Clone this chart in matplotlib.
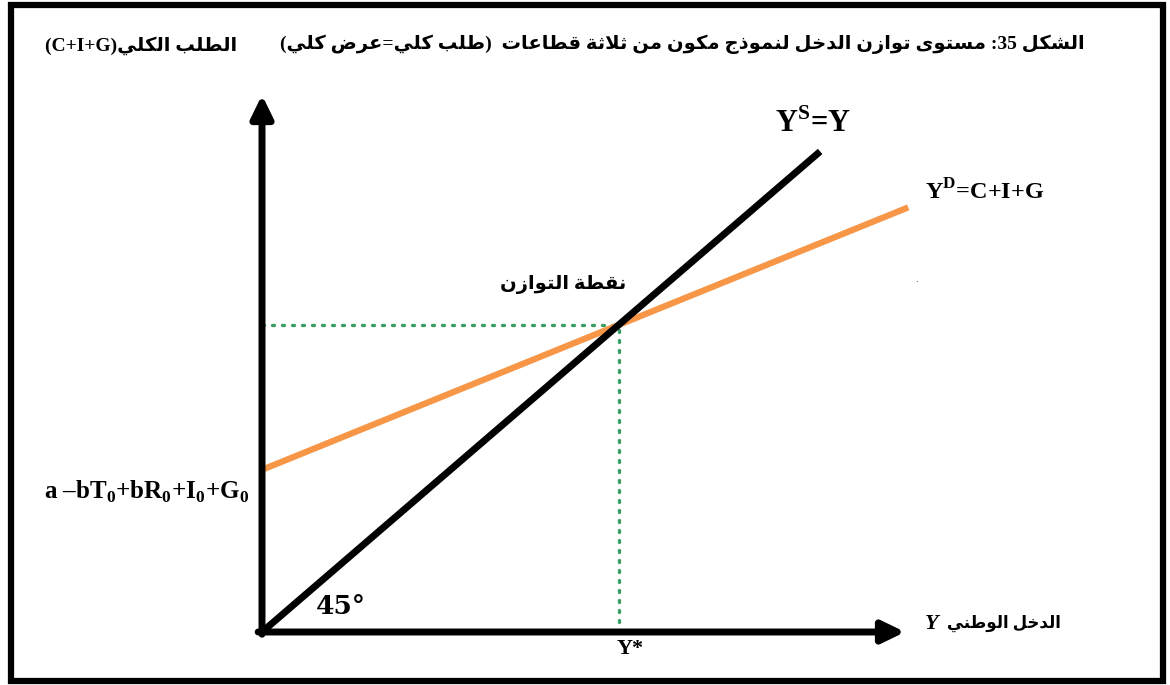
import matplotlib
matplotlib.use("Agg")
import matplotlib.pyplot as plt
from matplotlib.patches import Rectangle

# --- data ---
supply_x = [0, 86.8]          # 45 degree line  Y^S = Y
supply_y = [0, 86.8]
demand_x = [0, 100.5]         # Y^D = C+I+G
demand_y = [29.3, 76.7]
x_max, y_max = 100, 97

title = "الشكل 35: مستوى توازن الدخل لنموذج مكون من ثلاثة قطاعات  (طلب كلي=عرض كلي)"
y_label = "الطلب الكلي(C+I+G)"
x_label_ar = "الدخل الوطني"
x_label_var = "Y"
eq_label = "نقطة التوازن"
intercept_label = r"a –bT$_\mathbf{0}$+bR$_\mathbf{0}$+I$_\mathbf{0}$+G$_\mathbf{0}$"
supply_label = r"Y$^\mathbf{S}$=Y"
demand_label = r"Y$^\mathbf{D}$=C+I+G"

# --- small arabic shaper (presentation forms + visual order) ---
AR = {
    '\u0627': (0xFE8D, 0xFE8E), '\u0628': (0xFE8F, 0xFE90, 0xFE91, 0xFE92),
    '\u0629': (0xFE93, 0xFE94), '\u062A': (0xFE95, 0xFE96, 0xFE97, 0xFE98),
    '\u062B': (0xFE99, 0xFE9A, 0xFE9B, 0xFE9C), '\u062C': (0xFE9D, 0xFE9E, 0xFE9F, 0xFEA0),
    '\u062E': (0xFEA5, 0xFEA6, 0xFEA7, 0xFEA8), '\u062F': (0xFEA9, 0xFEAA),
    '\u0630': (0xFEAB, 0xFEAC), '\u0631': (0xFEAD, 0xFEAE), '\u0632': (0xFEAF, 0xFEB0),
    '\u0633': (0xFEB1, 0xFEB2, 0xFEB3, 0xFEB4), '\u0634': (0xFEB5, 0xFEB6, 0xFEB7, 0xFEB8),
    '\u0636': (0xFEBD, 0xFEBE, 0xFEBF, 0xFEC0), '\u0637': (0xFEC1, 0xFEC2, 0xFEC3, 0xFEC4),
    '\u0639': (0xFEC9, 0xFECA, 0xFECB, 0xFECC), '\u0642': (0xFED5, 0xFED6, 0xFED7, 0xFED8),
    '\u0643': (0xFED9, 0xFEDA, 0xFEDB, 0xFEDC), '\u0644': (0xFEDD, 0xFEDE, 0xFEDF, 0xFEE0),
    '\u0645': (0xFEE1, 0xFEE2, 0xFEE3, 0xFEE4), '\u0646': (0xFEE5, 0xFEE6, 0xFEE7, 0xFEE8),
    '\u0647': (0xFEE9, 0xFEEA, 0xFEEB, 0xFEEC), '\u0648': (0xFEED, 0xFEEE),
    '\u0649': (0xFEEF, 0xFEF0), '\u064A': (0xFEF1, 0xFEF2, 0xFEF3, 0xFEF4),
}
MIRROR = {'(': ')', ')': '('}


def shape(s):
    toks, i = [], 0
    while i < len(s):
        if s[i] == '\u0644' and i + 1 < len(s) and s[i + 1] == '\u0627':
            toks.append('LA'); i += 2
        else:
            toks.append(s[i]); i += 1
    dual = lambda t: t in AR and len(AR[t]) == 4
    arab = lambda t: t == 'LA' or t in AR
    out = []
    for k, t in enumerate(toks):
        if not arab(t):
            out.append(t); continue
        jp = k > 0 and dual(toks[k - 1])
        if t == 'LA':
            out.append(chr(0xFEFC if jp else 0xFEFB)); continue
        jn = dual(t) and k + 1 < len(toks) and arab(toks[k + 1])
        f = AR[t]
        out.append(chr(f[3] if jp and jn else f[1] if jp else f[2] if jn else f[0]))
    return ''.join(out)


def rtl(s):
    s = shape(s)
    kind = ['L' if (c.isascii() and c.isalnum()) else 'R' if ord(c) >= 0x0600 else 'N' for c in s]
    lv = kind[:]
    for i, k in enumerate(kind):
        if k == 'N':
            b = next((kind[j] for j in range(i - 1, -1, -1) if kind[j] != 'N'), 'R')
            a = next((kind[j] for j in range(i + 1, len(s)) if kind[j] != 'N'), 'R')
            lv[i] = 'L' if a == 'L' and b == 'L' else 'R'
    runs = []
    for c, l in zip(s, lv):
        c = MIRROR.get(c, c) if l == 'R' else c
        if runs and runs[-1][0] == l:
            runs[-1][1].append(c)
        else:
            runs.append([l, [c]])
    return ''.join(''.join(cs) if l == 'L' else ''.join(reversed(cs)) for l, cs in reversed(runs))


plt.rcParams['mathtext.fontset'] = 'custom'
plt.rcParams['mathtext.rm'] = 'Liberation Serif:bold'
plt.rcParams['mathtext.bf'] = 'Liberation Serif:bold'
FAM = ['Liberation Serif', 'DejaVu Sans']

W, H = 1170, 685
fig = plt.figure(figsize=(W / 100, H / 100), dpi=100)
ax = fig.add_axes([262 / W, (H - 632) / H, 643 / W, 537 / H])
ax.set_xlim(0, x_max)
ax.set_ylim(0, y_max)
ax.axis('off')

# equilibrium
slope = (demand_y[1] - demand_y[0]) / (demand_x[1] - demand_x[0])
y_star = demand_y[0] / (1 - slope)

ax.plot([0, y_star], [y_star, y_star], ls=(0, (0.6, 2.4)), lw=2.4, color='#3A9E62',
        dash_capstyle='round', zorder=1)
ax.plot([y_star, y_star], [0, y_star], ls=(0, (0.6, 2.4)), lw=2.4, color='#3A9E62',
        dash_capstyle='round', zorder=1)
ax.plot(supply_x, supply_y, color='black', lw=5, solid_capstyle='butt', zorder=3, clip_on=False)
ax.plot(demand_x, demand_y, color='#F79646', lw=4.5, solid_capstyle='butt', zorder=2, clip_on=False)

arrow = dict(arrowstyle='-|>,head_length=0.45,head_width=0.22', lw=5, color='black',
             mutation_scale=30, shrinkA=0, shrinkB=0)
ax.annotate('', xy=(0, y_max), xytext=(0, -0.4), arrowprops=arrow, annotation_clip=False)
ax.annotate('', xy=(x_max, 0), xytext=(-0.6, 0), arrowprops=arrow, annotation_clip=False)

# labels
ax.annotate(rtl(eq_label), xy=(y_star, y_star), xytext=(-40, 29.5), textcoords='offset points',
            ha='center', va='center', fontsize=14, fontweight='bold', family=FAM)
ax.annotate('Y*', xy=(y_star, 0), xytext=(8.5, -12.5), textcoords='offset points',
            ha='center', va='center', fontsize=16, fontweight='bold', family='Liberation Serif',
            annotation_clip=False)
ax.text(12.3, 4.6, '45°', ha='center', va='center', fontsize=19, fontweight='bold',
        family='DejaVu Serif')
ax.annotate(supply_label, xy=(supply_x[1], supply_y[1]), xytext=(-5, 20), textcoords='offset points',
            ha='center', va='center', fontsize=22, fontweight='bold', family='Liberation Serif',
            annotation_clip=False)
ax.annotate(demand_label, xy=(demand_x[1], demand_y[1]), xytext=(12, 11), textcoords='offset points',
            ha='left', va='center', fontsize=17.5, fontweight='bold', family='Liberation Serif',
            annotation_clip=False)
ax.annotate(intercept_label, xy=(0, demand_y[0]), xytext=(-9, -16), textcoords='offset points',
            ha='right', va='center', fontsize=18, fontweight='bold', family='Liberation Serif',
            annotation_clip=False)
ax.annotate(x_label_var, xy=(x_max, 0), xytext=(14, 6), textcoords='offset points',
            ha='left', va='center', fontsize=16, fontweight='bold', style='italic',
            family='Liberation Serif', annotation_clip=False)
ax.annotate(rtl(x_label_ar), xy=(x_max, 0), xytext=(112, 6), textcoords='offset points',
            ha='right', va='center', fontsize=12, fontweight='bold', family=FAM,
            annotation_clip=False)

fig.text(1085 / W, 1 - 44 / H, rtl(title), ha='right', va='center', fontsize=14,
         fontweight='bold', family=FAM)
fig.text(45 / W, 1 - 46 / H, rtl(y_label), ha='left', va='center', fontsize=14,
         fontweight='bold', family=FAM)
fig.text(916 / W, 1 - 280 / H, '.', ha='center', va='center', fontsize=6)

fig.add_artist(Rectangle((11 / W, 4 / H), 1152 / W, 676 / H, transform=fig.transFigure,
                         fill=False, lw=4.5, edgecolor='black'))

fig.savefig('out.png', dpi=100)
